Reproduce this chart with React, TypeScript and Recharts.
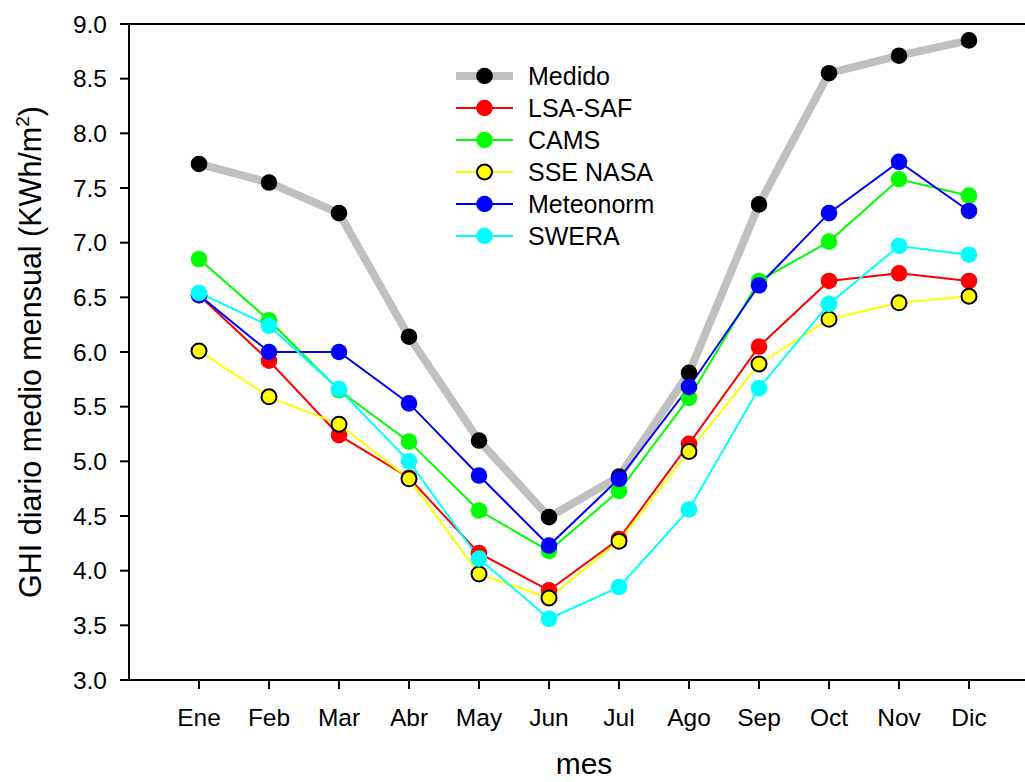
import React from 'react';
import { LineChart, Line, XAxis, YAxis, Legend, ReferenceLine } from 'recharts';

const months = ['Ene', 'Feb', 'Mar', 'Abr', 'May', 'Jun', 'Jul', 'Ago', 'Sep', 'Oct', 'Nov', 'Dic'];
const medido = [7.72, 7.55, 7.27, 6.14, 5.19, 4.49, 4.86, 5.81, 7.35, 8.55, 8.71, 8.85];
const lsaSaf = [6.52, 5.92, 5.24, 4.85, 4.16, 3.82, 4.29, 5.16, 6.05, 6.65, 6.72, 6.65];
const cams = [6.85, 6.29, 5.65, 5.18, 4.55, 4.18, 4.73, 5.58, 6.65, 7.01, 7.58, 7.43];
const sseNasa = [6.01, 5.59, 5.34, 4.84, 3.97, 3.75, 4.27, 5.09, 5.89, 6.3, 6.45, 6.51];
const meteonorm = [6.52, 6.0, 6.0, 5.53, 4.87, 4.23, 4.84, 5.68, 6.61, 7.27, 7.74, 7.29];
const swera = [6.54, 6.24, 5.66, 5.0, 4.11, 3.56, 3.85, 4.56, 5.67, 6.44, 6.97, 6.89];

const yTicks = [3, 3.5, 4, 4.5, 5, 5.5, 6, 6.5, 7, 7.5, 8, 8.5, 9];
const xTicks = months.map((_, i) => i + 1);

const FONT = '"Liberation Sans", Arial, sans-serif';

// line styling per series (draw order = legend order)
const series = [
  { key: 'medido', name: 'Medido', line: '#c0c0c0', width: 8, fill: '#000000', edge: 'none' },
  { key: 'lsaSaf', name: 'LSA-SAF', line: '#ff0000', width: 2, fill: '#ff0000', edge: 'none' },
  { key: 'cams', name: 'CAMS', line: '#00ff00', width: 2, fill: '#00ff00', edge: 'none' },
  { key: 'sseNasa', name: 'SSE NASA', line: '#ffff00', width: 2, fill: '#ffff00', edge: '#000000' },
  { key: 'meteonorm', name: 'Meteonorm', line: '#0000ff', width: 2, fill: '#0000ff', edge: 'none' },
  { key: 'swera', name: 'SWERA', line: '#00ffff', width: 2, fill: '#00ffff', edge: 'none' },
];

const data = months.map((m, i) => ({
  x: i + 1,
  medido: medido[i],
  lsaSaf: lsaSaf[i],
  cams: cams[i],
  sseNasa: sseNasa[i],
  meteonorm: meteonorm[i],
  swera: swera[i],
}));

const LegendBox = () => (
  <div style={{ fontFamily: FONT, fontSize: 25, color: '#000' }}>
    {series.map((s) => (
      <div key={s.key} style={{ display: 'flex', alignItems: 'center', height: 32 }}>
        <svg width={58} height={32} style={{ display: 'block' }}>
          <line x1={0} y1={16} x2={57} y2={16} stroke={s.line} strokeWidth={s.width} />
          <circle
            cx={28.5}
            cy={16}
            r={s.edge === 'none' ? 8.3 : 7.5}
            fill={s.fill}
            stroke={s.edge}
            strokeWidth={s.edge === 'none' ? 0 : 2}
          />
        </svg>
        <span style={{ marginLeft: 14, lineHeight: '32px' }}>{s.name}</span>
      </div>
    ))}
  </div>
);

const YTitle = (props: any) => {
  const vb = props.viewBox;
  const cx = vb.x + 41;
  const cy = vb.y + vb.height / 2;
  return (
    <text
      transform={`translate(${cx},${cy}) rotate(-90)`}
      textAnchor="middle"
      fontFamily={FONT}
      fontSize={30.5}
      fill="#000"
    >
      GHI diario medio mensual (KWh/m
      <tspan fontSize={19} dy={-12}>2</tspan>
      <tspan dy={12}>)</tspan>
    </text>
  );
};

const XTitle = (props: any) => {
  const vb = props.viewBox;
  return (
    <text
      x={vb.x + vb.width / 2}
      y={vb.y + 94}
      textAnchor="middle"
      fontFamily={FONT}
      fontSize={30}
      fill="#000"
    >
      mes
    </text>
  );
};

export default function App() {
  return (
    <div
      style={{
        position: 'absolute',
        left: 0,
        top: 0,
        width: 1025,
        height: 782,
        overflow: 'hidden',
        background: '#fff',
        fontFamily: FONT,
      }}
    >
      <LineChart width={1045} height={782} data={data} margin={{ top: 24, right: 6, bottom: 0, left: 0 }}>
        <XAxis
          dataKey="x"
          type="number"
          domain={[0, 13]}
          ticks={xTicks}
          interval={0}
          tickFormatter={(v: number) => months[v - 1]}
          height={102}
          tickSize={9}
          tickMargin={20}
          axisLine={{ stroke: '#000', strokeWidth: 2 }}
          tickLine={{ stroke: '#000', strokeWidth: 2 }}
          tick={{ fill: '#000', fontSize: 24.5, fontFamily: FONT }}
          label={XTitle}
        />
        <YAxis
          type="number"
          domain={[3, 9]}
          ticks={yTicks}
          interval={0}
          width={129}
          tickFormatter={(v: number) => v.toFixed(1)}
          tickSize={9}
          tickMargin={13}
          axisLine={{ stroke: '#000', strokeWidth: 2 }}
          tickLine={{ stroke: '#000', strokeWidth: 2 }}
          tick={{ fill: '#000', fontSize: 24.5, fontFamily: FONT }}
          label={YTitle}
        />
        <ReferenceLine y={9} stroke="#000" strokeWidth={2} />
        <Legend
          layout="vertical"
          align="center"
          verticalAlign="middle"
          content={LegendBox}
          wrapperStyle={{ position: 'absolute', left: 456, top: 60, width: 'auto', height: 'auto' }}
        />
        {series.map((s) => (
          <Line
            key={s.key}
            dataKey={s.key}
            name={s.name}
            type="linear"
            stroke={s.line}
            strokeWidth={s.width}
            dot={{
              r: s.edge === 'none' ? 8.3 : 7.5,
              fill: s.fill,
              stroke: s.edge,
              strokeWidth: s.edge === 'none' ? 0 : 2,
            }}
            activeDot={false}
            isAnimationActive={false}
          />
        ))}
      </LineChart>
    </div>
  );
}
